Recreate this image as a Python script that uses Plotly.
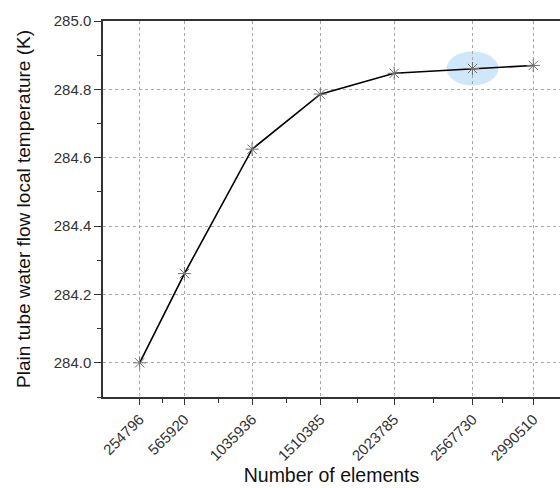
import plotly.graph_objects as go

elements = [254796, 565920, 1035936, 1510385, 2023785, 2567730, 2990510]
temperature = [284.000, 284.261, 284.625, 284.786, 284.847, 284.861, 284.870]
tick_labels = [str(v) for v in elements]
highlight_index = 5

minor_x = [(a + b) / 2 for a, b in zip(elements[:-1], elements[1:])]

font_family = "Arial, Liberation Sans, sans-serif"

fig = go.Figure()
fig.add_trace(go.Scatter(
    x=elements, y=temperature, mode="lines+markers",
    line=dict(color="black", width=1.6),
    marker=dict(symbol="asterisk-open", size=11, color="#707070",
                line=dict(color="#707070", width=1)),
    showlegend=False,
))

fig.add_shape(
    type="circle", layer="below",
    xref="x", yref="y", xsizemode="pixel", ysizemode="pixel",
    xanchor=elements[highlight_index], yanchor=temperature[highlight_index],
    x0=-26, x1=26, y0=-17, y1=17,
    fillcolor="#cfe8f9", line=dict(width=0),
)

fig.update_layout(
    width=560, height=488,
    margin=dict(l=103, r=0, t=21, b=91),
    paper_bgcolor="white", plot_bgcolor="white",
    font=dict(family=font_family, size=15, color="#333333"),
    xaxis=dict(
        range=[0, 3176000], automargin=False,
        tickmode="array", tickvals=elements, ticktext=tick_labels,
        tickangle=-45,
        ticks="outside", ticklen=6, tickwidth=1, tickcolor="#333333",
        showline=True, linecolor="#333333", linewidth=1.5, mirror=True,
        showgrid=True, gridcolor="#a8a8a8", gridwidth=1, griddash="dot",
        zeroline=False,
        tickfont=dict(size=15, color="#333333"),
        minor=dict(tickmode="array", tickvals=minor_x, ticks="outside",
                   ticklen=4, tickwidth=1, tickcolor="#333333", showgrid=False),
        title=dict(text="Number of elements", font=dict(size=19.5, color="#111111"), standoff=4),
    ),
    yaxis=dict(
        range=[283.9, 285.0], automargin=False,
        tickmode="linear", tick0=284.0, dtick=0.2, tickformat=".1f",
        ticks="outside", ticklen=7, tickwidth=1, tickcolor="#333333",
        showline=True, linecolor="#333333", linewidth=1.5,
        showgrid=True, gridcolor="#a8a8a8", gridwidth=1, griddash="dot",
        zeroline=False,
        tickfont=dict(size=15, color="#333333"),
        minor=dict(dtick=0.1, tick0=284.0, ticks="outside", ticklen=4,
                   tickwidth=1, tickcolor="#333333", showgrid=False),
        title=dict(text="Plain tube water flow local temperature (K)",
                   font=dict(size=19, color="#111111"), standoff=18),
    ),
)

fig.write_html("out.html", config={"displayModeBar": False},
               post_script="document.body.style.margin='0';")
